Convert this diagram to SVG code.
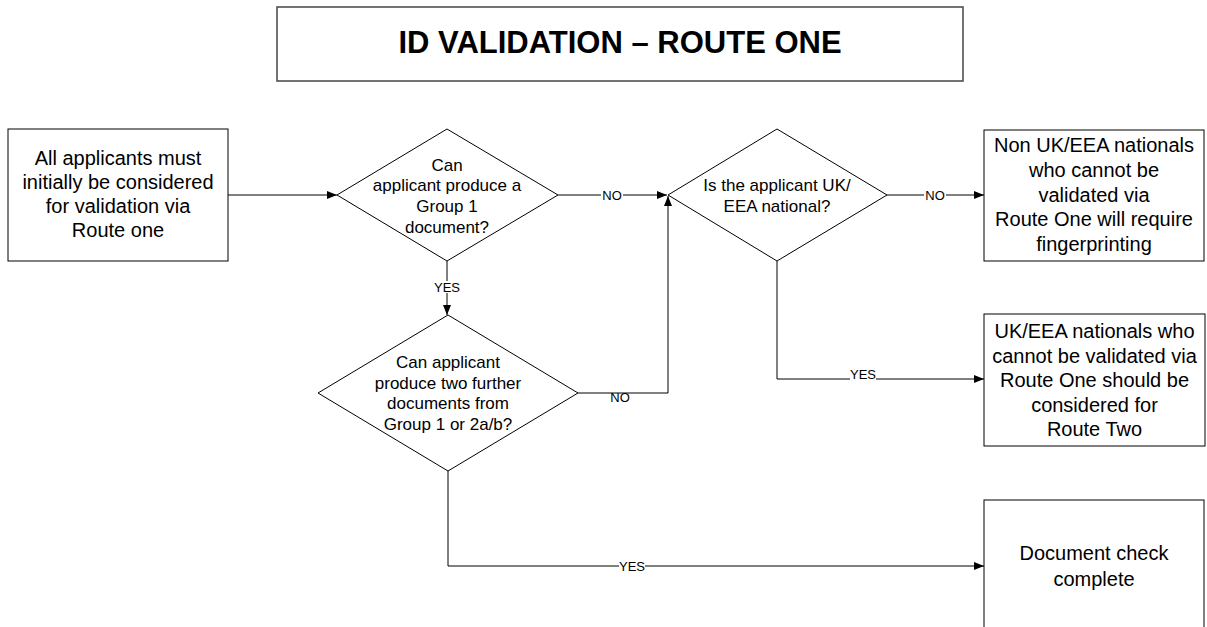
<svg xmlns="http://www.w3.org/2000/svg" width="1207" height="627" viewBox="0 0 1207 627">
<defs>
<marker id="arr" viewBox="0 0 10 8" refX="10" refY="4" markerWidth="10" markerHeight="8" markerUnits="userSpaceOnUse" orient="auto">
<path d="M0,0 L10,4 L0,8 z" fill="#000"/>
</marker>
</defs>
<style>
.box{fill:#fff;stroke:#000;stroke-width:1}
.t{font-family:"Liberation Sans",Arial,sans-serif;fill:#000;text-anchor:middle}
.b20{font-size:20px}
.d17{font-size:17px}
.lbl{font-family:"Liberation Sans",Arial,sans-serif;font-size:13px;fill:#000;text-anchor:middle}
.c{fill:none;stroke:#000;stroke-width:1}
.bg{fill:#fff}
</style>
<rect width="1207" height="627" fill="#fff"/>
<g id="title">
<rect x="277" y="7" width="686" height="74" fill="#fff" stroke="#444" stroke-width="1.5"/>
<text class="t" x="620" y="53" font-size="31" font-weight="bold">ID VALIDATION – ROUTE ONE</text>
</g>
<g id="start">
<rect class="box" x="8" y="129" width="220" height="132"/>
<text class="t b20"><tspan x="118" y="165">All applicants must</tspan><tspan x="118" y="189">initially be considered</tspan><tspan x="118" y="213">for validation via</tspan><tspan x="118" y="237">Route one</tspan></text>
</g>
<g id="q1">
<polygon class="box" points="337,195 447,129 558,195 447,261"/>
<text class="t d17"><tspan x="447" y="170.5">Can</tspan><tspan x="447" y="191">applicant produce a</tspan><tspan x="447" y="212">Group 1</tspan><tspan x="447" y="232.5">document?</tspan></text>
</g>
<g id="q2">
<polygon class="box" points="318,393 448,315 578,393 448,471"/>
<text class="t d17"><tspan x="448" y="368">Can applicant</tspan><tspan x="448" y="389">produce two further</tspan><tspan x="448" y="409">documents from</tspan><tspan x="448" y="430">Group 1 or 2a/b?</tspan></text>
</g>
<g id="q3">
<polygon class="box" points="668,195 777,129 887,195 777,261"/>
<text class="t d17"><tspan x="777" y="191">Is the applicant UK/</tspan><tspan x="777" y="212">EEA national?</tspan></text>
</g>
<g id="fingerprint">
<rect class="box" x="984" y="130" width="220" height="131"/>
<text class="t b20"><tspan x="1094" y="152">Non UK/EEA nationals</tspan><tspan x="1094" y="177">who cannot be</tspan><tspan x="1094" y="201.5">validated via</tspan><tspan x="1094" y="226">Route One will require</tspan><tspan x="1094" y="250.5">fingerprinting</tspan></text>
</g>
<g id="routetwo">
<rect class="box" x="984" y="314" width="221" height="132"/>
<text class="t b20"><tspan x="1094.5" y="338">UK/EEA nationals who</tspan><tspan x="1094.5" y="362.5">cannot be validated via</tspan><tspan x="1094.5" y="387">Route One should be</tspan><tspan x="1094.5" y="411.5">considered for</tspan><tspan x="1094.5" y="436">Route Two</tspan></text>
</g>
<g id="complete">
<rect class="box" x="984" y="500" width="220" height="140"/>
<text class="t b20"><tspan x="1094" y="560">Document check</tspan><tspan x="1094" y="586">complete</tspan></text>
</g>
<g id="connectors">
<path class="c" d="M228,195 H337" marker-end="url(#arr)"/>
<path class="c" d="M558,195 H667" marker-end="url(#arr)"/>
<path class="c" d="M447,261 V315" marker-end="url(#arr)"/>
<path class="c" d="M578,393 H668 V196" marker-end="url(#arr)"/>
<path class="c" d="M887,195 H984" marker-end="url(#arr)"/>
<path class="c" d="M777,261 V379 H984" marker-end="url(#arr)"/>
<path class="c" d="M448,471 V566 H984" marker-end="url(#arr)"/>
<rect class="bg" x="601" y="189" width="22" height="12"/>
<text class="lbl" x="612" y="199.5">NO</text>
<rect class="bg" x="924" y="189" width="22" height="12"/>
<text class="lbl" x="935" y="199.5">NO</text>
<rect class="bg" x="434" y="281" width="26" height="12"/>
<text class="lbl" x="447" y="291.5">YES</text>
<text class="lbl" x="620" y="402">NO</text>
<rect class="bg" x="850" y="370" width="26" height="12"/>
<text class="lbl" x="863" y="378.5">YES</text>
<rect class="bg" x="619" y="560" width="26" height="12"/>
<text class="lbl" x="632" y="571">YES</text>
</g>
</svg>
